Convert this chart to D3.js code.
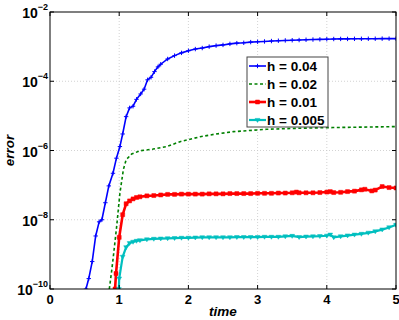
<!DOCTYPE html>
<html>
<head>
<meta charset="utf-8">
<script src="https://cdn.jsdelivr.net/npm/d3@7"></script>
<style>
    body { margin: 0; background: #fff; }
    text { font-family: "Liberation Sans", Arial, sans-serif; font-weight: bold; }
</style>
</head>
<body>
<svg id="chart" width="399" height="320"></svg>
<script>
    // series values
    const blueT = [0.52, 0.56, 0.61, 0.66, 0.71, 0.75, 0.80, 0.85, 0.91, 0.96, 1.01, 1.05, 1.10, 1.15, 1.20, 1.25, 1.31, 1.36, 1.41, 1.46, 1.51, 1.56,
        1.6, 1.7, 1.8, 1.9, 2.0, 2.1, 2.2, 2.3, 2.4, 2.5, 2.6, 2.7, 2.8, 2.9, 3.0, 3.1, 3.2, 3.3, 3.4, 3.5, 3.6, 3.7, 3.8, 3.9, 4.0,
        4.1, 4.2, 4.3, 4.4, 4.5, 4.6, 4.7, 4.8, 4.9, 5.0];
    const blueErr = [1e-10, 2.0e-10, 6.2e-10, 3.4e-9, 8.7e-9, 1.0e-8, 3.1e-8, 9.5e-8, 2.2e-7, 6.0e-7, 1.3e-6, 3.0e-6, 9.5e-6, 1.7e-5, 1.9e-5, 3.0e-5, 4.3e-5, 5.9e-5, 1.1e-4, 1.3e-4, 1.9e-4, 2.6e-4,
        3.1e-4, 4.4e-4, 5.5e-4, 6.6e-4, 7.6e-4, 8.5e-4, 9.1e-4, 1.0e-3, 1.07e-3, 1.12e-3, 1.2e-3, 1.26e-3, 1.29e-3, 1.35e-3, 1.38e-3, 1.41e-3, 1.45e-3, 1.48e-3, 1.51e-3, 1.53e-3, 1.55e-3, 1.58e-3, 1.60e-3, 1.62e-3, 1.64e-3,
        1.66e-3, 1.67e-3, 1.67e-3, 1.68e-3, 1.68e-3, 1.69e-3, 1.69e-3, 1.70e-3, 1.70e-3, 1.70e-3];

    const greenT = [0.857, 0.89, 0.915, 0.963, 1.01, 1.06, 1.10, 1.18, 1.30, 1.49, 1.69, 1.88, 2.17, 2.4, 2.65, 3.13, 3.61, 4.09, 5.0];
    const greenErr = [1e-10, 3.2e-10, 8.5e-10, 6.3e-9, 5.8e-8, 2.8e-7, 5.4e-7, 7.9e-7, 9.8e-7, 1.1e-6, 1.3e-6, 1.8e-6, 2.5e-6, 3.0e-6, 3.5e-6, 4.1e-6, 4.4e-6, 4.6e-6, 4.9e-6];

    const redT = [0.94, 0.954, 1.0, 1.05, 1.10, 1.15, 1.2, 1.25, 1.3, 1.4, 1.5, 1.6, 1.7, 1.8, 1.9, 2.0, 2.1, 2.2,
        2.3, 2.4, 2.5, 2.6, 2.7, 2.8, 2.9, 3.0, 3.1, 3.2, 3.3, 3.4, 3.5, 3.56, 3.6, 3.7, 3.8, 3.9, 4.0, 4.05, 4.1, 4.2, 4.3, 4.4, 4.5, 4.55, 4.65, 4.7, 4.8, 4.9, 5.0];
    const redErr = [1e-10, 2.8e-10, 3.1e-9, 1.4e-8, 2.9e-8, 3.5e-8, 4.0e-8, 4.4e-8, 4.6e-8, 4.9e-8, 5.0e-8, 5.2e-8, 5.4e-8, 5.4e-8, 5.5e-8, 5.5e-8, 5.5e-8, 5.5e-8,
        5.6e-8, 5.6e-8, 5.6e-8, 5.7e-8, 5.7e-8, 5.7e-8, 5.7e-8, 5.8e-8, 5.8e-8, 5.8e-8, 5.9e-8, 5.9e-8, 6.0e-8, 6.3e-8, 6.0e-8, 6.0e-8, 6.0e-8, 6.1e-8, 6.3e-8, 6.5e-8, 6.1e-8, 6.2e-8, 6.5e-8, 6.7e-8, 7.3e-8, 7.6e-8, 6.8e-8, 7.2e-8, 9.1e-8, 8.5e-8, 8.3e-8];

    const cyanT = [0.995, 1.0, 1.05, 1.10, 1.15, 1.2, 1.25, 1.3, 1.4, 1.5, 1.6, 1.7, 1.8, 1.9, 2.0, 2.1, 2.2,
        2.3, 2.4, 2.5, 2.6, 2.7, 2.8, 2.9, 3.0, 3.1, 3.2, 3.3, 3.4, 3.5, 3.6, 3.7, 3.8, 3.9, 4.0, 4.05, 4.1, 4.2, 4.3, 4.4, 4.5, 4.6, 4.7, 4.8, 4.9, 5.0];
    const cyanErr = [1e-10, 2.0e-10, 8.5e-10, 1.6e-9, 2.1e-9, 2.3e-9, 2.45e-9, 2.55e-9, 2.7e-9, 2.8e-9, 2.85e-9, 2.9e-9, 2.95e-9, 3.0e-9, 3.0e-9, 3.05e-9, 3.1e-9,
        3.1e-9, 3.1e-9, 3.1e-9, 3.1e-9, 3.15e-9, 3.15e-9, 3.15e-9, 3.15e-9, 3.2e-9, 3.2e-9, 3.2e-9, 3.3e-9, 3.4e-9, 3.15e-9, 3.25e-9, 3.3e-9, 3.35e-9, 3.45e-9, 3.7e-9, 3.1e-9, 3.3e-9, 3.5e-9, 3.7e-9, 3.9e-9, 4.2e-9, 4.6e-9, 5.2e-9, 6.0e-9, 7.1e-9];

    const legendLabels = ['h = 0.04', 'h = 0.02', 'h = 0.01', 'h = 0.005'];
    const xTicks = [0, 1, 2, 3, 4, 5];
    const yTickExp = [-10, -8, -6, -4, -2];

    const series = [
        { t: blueT, e: blueErr, color: '#0000ff', dash: null, marker: 'plus', width: 1.6 },
        { t: greenT, e: greenErr, color: '#008000', dash: '3,2.5', marker: null, width: 1.6 },
        { t: redT, e: redErr, color: '#ff0000', dash: null, marker: 'square', width: 2.6 },
        { t: cyanT, e: cyanErr, color: '#00bfbf', dash: null, marker: 'tri', width: 2.2 }
    ];

    const margin = { top: 12, right: 3, bottom: 31, left: 50 };
    const width = 399 - margin.left - margin.right;
    const height = 320 - margin.top - margin.bottom;

    let x = d3.scaleLinear().domain([0, 5]).range([0, width]);
    let y = d3.scaleLog().domain([1e-10, 1e-2]).range([height, 0]);

    let svg = d3.select('#chart');
    svg.append('defs').append('clipPath')
        .attr('id', 'clip')
        .append('rect')
            .attr('width', width)
            .attr('height', height);

    let chart = svg.append('g')
        .attr('transform', `translate(${margin.left}, ${margin.top})`);

    // grid
    chart.append('g')
        .selectAll('line')
        .data(xTicks.slice(1, -1))
        .enter().append('line')
            .attr('x1', (d) => x(d)).attr('x2', (d) => x(d))
            .attr('y1', 0).attr('y2', height)
            .attr('stroke', '#c8c8c8').attr('stroke-width', 0.8).attr('stroke-dasharray', '1,2');
    chart.append('g')
        .selectAll('line')
        .data(yTickExp.slice(1, -1))
        .enter().append('line')
            .attr('y1', (d) => y(Math.pow(10, d))).attr('y2', (d) => y(Math.pow(10, d)))
            .attr('x1', 0).attr('x2', width)
            .attr('stroke', '#c8c8c8').attr('stroke-width', 0.8).attr('stroke-dasharray', '1,2');

    // series
    let plot = chart.append('g').attr('clip-path', 'url(#clip)');
    let line = d3.line()
        .x((d) => x(d[0]))
        .y((d) => y(d[1]));

    series.forEach((s) => {
        let pts = s.t.map((t, i) => [t, s.e[i]]);
        plot.append('path')
            .datum(pts)
            .attr('fill', 'none')
            .attr('stroke', s.color)
            .attr('stroke-width', s.width)
            .attr('stroke-dasharray', s.dash)
            .attr('d', line);
        if (s.marker) {
            let m = plot.append('g').selectAll('path')
                .data(pts)
                .enter().append('path')
                    .attr('transform', (d) => `translate(${x(d[0])}, ${y(d[1])})`)
                    .attr('fill', s.color)
                    .attr('stroke', s.color);
            drawMarker(m, s.marker);
        }
    });

    function drawMarker(sel, kind) {
        if (kind === 'plus') {
            sel.attr('d', 'M-2.2,0H2.2M0,-2.2V2.2').attr('stroke-width', 1);
        } else if (kind === 'square') {
            sel.attr('d', 'M-2,-2H2V2H-2Z').attr('stroke-width', 0.5);
        } else {
            sel.attr('d', 'M-2.4,-1.6H2.4L0,2.4Z').attr('stroke-width', 0.5);
        }
    }

    // frame and ticks
    chart.append('rect')
        .attr('width', width).attr('height', height)
        .attr('fill', 'none').attr('stroke', '#000').attr('stroke-width', 1);

    let tickLen = 4;
    let xt = chart.append('g');
    xTicks.forEach((d) => {
        xt.append('line').attr('x1', x(d)).attr('x2', x(d)).attr('y1', height).attr('y2', height - tickLen).attr('stroke', '#000');
        xt.append('line').attr('x1', x(d)).attr('x2', x(d)).attr('y1', 0).attr('y2', tickLen).attr('stroke', '#000');
        xt.append('text')
            .attr('x', x(d)).attr('y', height + 15)
            .attr('text-anchor', 'middle')
            .attr('font-size', 13)
            .text(d);
    });

    let yt = chart.append('g');
    yTickExp.forEach((d) => {
        let py = y(Math.pow(10, d));
        yt.append('line').attr('x1', 0).attr('x2', tickLen).attr('y1', py).attr('y2', py).attr('stroke', '#000');
        yt.append('line').attr('x1', width).attr('x2', width - tickLen).attr('y1', py).attr('y2', py).attr('stroke', '#000');
        let label = yt.append('text')
            .attr('x', -2).attr('y', py + 6)
            .attr('text-anchor', 'end')
            .attr('font-size', 14);
        label.append('tspan').text('10');
        label.append('tspan')
            .attr('dy', -8)
            .attr('font-size', 9)
            .text('\u2212' + Math.abs(d));
    });

    // axis titles
    svg.append('text')
        .attr('x', margin.left + width / 2).attr('y', 316)
        .attr('text-anchor', 'middle')
        .attr('font-size', 13.5)
        .attr('font-style', 'italic')
        .text('time');
    svg.append('text')
        .attr('transform', `translate(14, ${margin.top + height / 2}) rotate(-90)`)
        .attr('text-anchor', 'middle')
        .attr('font-size', 13.5)
        .attr('font-style', 'italic')
        .text('error');

    // legend
    let legend = svg.append('g').attr('transform', 'translate(247, 57)');
    legend.append('rect')
        .attr('width', 81).attr('height', 70)
        .attr('fill', '#fff').attr('stroke', '#444').attr('stroke-width', 1);
    series.forEach((s, i) => {
        let ly = 9 + i * 18;
        legend.append('line')
            .attr('x1', 2).attr('x2', 19).attr('y1', ly).attr('y2', ly)
            .attr('stroke', s.color)
            .attr('stroke-width', s.width)
            .attr('stroke-dasharray', s.dash);
        if (s.marker) {
            let m = legend.append('path')
                .attr('transform', `translate(10.5, ${ly})`)
                .attr('fill', s.color).attr('stroke', s.color);
            drawMarker(m, s.marker);
        }
        legend.append('text')
            .attr('x', 20).attr('y', ly + 5)
            .attr('font-size', 13.5)
            .text(legendLabels[i]);
    });
</script>
</body>
</html>
